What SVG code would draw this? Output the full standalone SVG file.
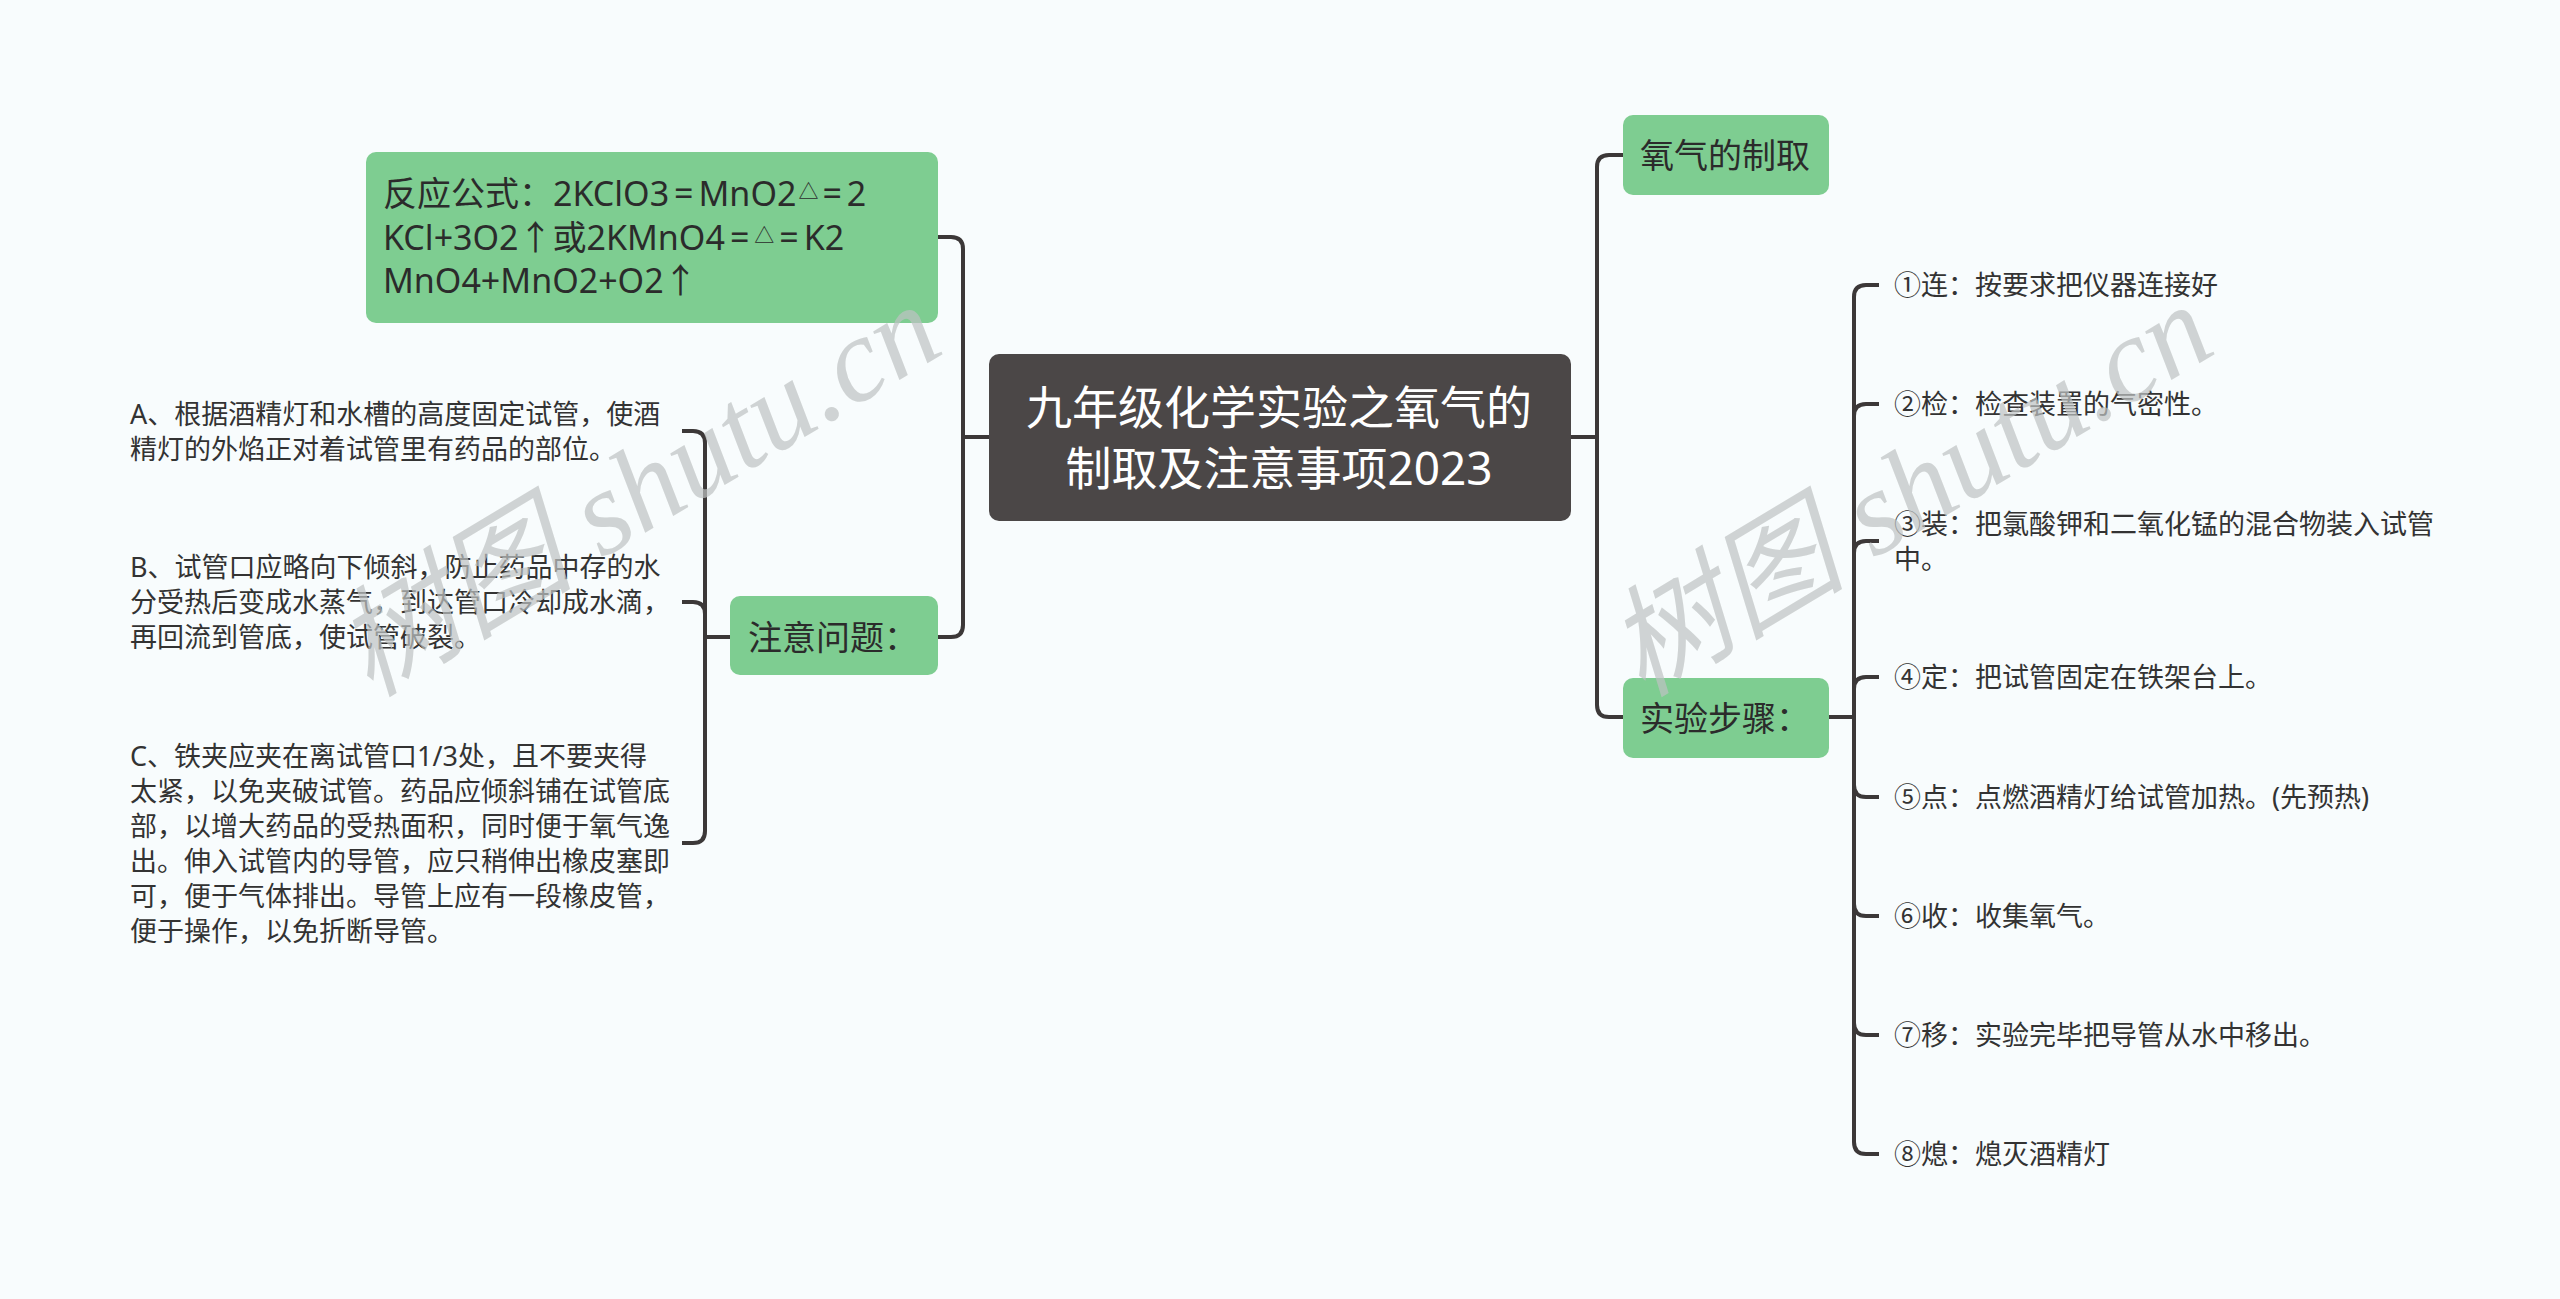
<svg xmlns="http://www.w3.org/2000/svg" width="2560" height="1299" viewBox="0 0 2560 1299">
<style>
.bg{fill:#F8FCFD}
.box{fill:#7ECD91}
.root{fill:#4B4747}
.lnk{fill:none;stroke:#3C3838;stroke-width:4}
.t{font-family:"Noto Sans","Noto Sans CJK SC",sans-serif;fill:#2B2B2B}
.rt{font-family:"Noto Sans","Noto Sans CJK SC",sans-serif;fill:#FFFFFF;font-size:46px;text-anchor:middle}
.n{font-size:34px}
.l{font-size:27px;fill:#333333}
.tri{font-size:20px}
.wm{font-family:"Liberation Serif","Noto Sans CJK SC",serif;font-style:italic;font-size:120px;fill:#BFC3C3;opacity:0.7}
</style>
<rect class="bg" x="0" y="0" width="2560" height="1299"/>

<g id="connectors">
<path class="lnk" d="M989 437 H963"/>
<path class="lnk" d="M963 437 V249 Q963 237 951 237 H938"/>
<path class="lnk" d="M963 437 V625 Q963 637 951 637 H938"/>
<path class="lnk" d="M730 637 H705"/>
<path class="lnk" d="M705 637 V443 Q705 431 693 431 H682"/>
<path class="lnk" d="M705 637 V614 Q705 602 693 602 H682"/>
<path class="lnk" d="M705 637 V831 Q705 843 693 843 H682"/>
<path class="lnk" d="M1571 437 H1597"/>
<path class="lnk" d="M1597 437 V167 Q1597 155 1609 155 H1623"/>
<path class="lnk" d="M1597 437 V705 Q1597 717 1609 717 H1623"/>
<path class="lnk" d="M1829 717 H1854"/>
<path class="lnk" d="M1854 717 V297 Q1854 285 1866 285 H1879"/>
<path class="lnk" d="M1854 717 V416 Q1854 404 1866 404 H1879"/>
<path class="lnk" d="M1854 717 V553 Q1854 541 1866 541 H1879"/>
<path class="lnk" d="M1854 717 V689 Q1854 677 1866 677 H1879"/>
<path class="lnk" d="M1854 717 V785 Q1854 797 1866 797 H1879"/>
<path class="lnk" d="M1854 717 V904 Q1854 916 1866 916 H1879"/>
<path class="lnk" d="M1854 717 V1023 Q1854 1035 1866 1035 H1879"/>
<path class="lnk" d="M1854 717 V1142 Q1854 1154 1866 1154 H1879"/>
</g>

<g id="root">
<rect class="root" x="989" y="354" width="582" height="167" rx="10"/>
<text class="rt" x="1279" y="424">九年级化学实验之氧气的</text>
<text class="rt" x="1279" y="485">制取及注意事项2023</text>
</g>

<g id="formula">
<rect class="box" x="366" y="152" width="572" height="171" rx="10"/>
<text class="t n" x="383" y="206">反应公式：2KClO3<tspan dx="5">=</tspan><tspan dx="5">MnO2</tspan><tspan class="tri" dx="2" dy="-7">△</tspan><tspan dx="4" dy="7">=</tspan><tspan dx="5">2</tspan></text>
<text class="t n" x="383" y="250">KCl+3O2↑或2KMnO4<tspan dx="5">=</tspan><tspan class="tri" dx="5" dy="-7">△</tspan><tspan dx="5" dy="7">=</tspan><tspan dx="5">K2</tspan></text>
<text class="t n" x="383" y="293">MnO4+MnO2+O2↑</text>
</g>

<g id="notes">
<rect class="box" x="730" y="596" width="208" height="79" rx="10"/>
<text class="t n" x="748" y="650">注意问题：</text>
</g>

<g id="noteA">
<text class="t l" x="130" y="424">A、根据酒精灯和水槽的高度固定试管，使酒</text>
<text class="t l" x="130" y="459">精灯的外焰正对着试管里有药品的部位。</text>
</g>
<g id="noteB">
<text class="t l" x="130" y="577">B、试管口应略向下倾斜，防止药品中存的水</text>
<text class="t l" x="130" y="612">分受热后变成水蒸气，到达管口冷却成水滴，</text>
<text class="t l" x="130" y="647">再回流到管底，使试管破裂。</text>
</g>
<g id="noteC">
<text class="t l" x="130" y="766">C、铁夹应夹在离试管口1/3处，且不要夹得</text>
<text class="t l" x="130" y="801">太紧，以免夹破试管。药品应倾斜铺在试管底</text>
<text class="t l" x="130" y="836">部，以增大药品的受热面积，同时便于氧气逸</text>
<text class="t l" x="130" y="871">出。伸入试管内的导管，应只稍伸出橡皮塞即</text>
<text class="t l" x="130" y="906">可，便于气体排出。导管上应有一段橡皮管，</text>
<text class="t l" x="130" y="941">便于操作，以免折断导管。</text>
</g>

<g id="prep">
<rect class="box" x="1623" y="115" width="206" height="80" rx="10"/>
<text class="t n" x="1640" y="168">氧气的制取</text>
</g>

<g id="steps">
<rect class="box" x="1623" y="678" width="206" height="80" rx="10"/>
<text class="t n" x="1640" y="731">实验步骤：</text>
</g>

<g id="s1"><text class="t l" x="1894" y="295">①连：按要求把仪器连接好</text></g>
<g id="s2"><text class="t l" x="1894" y="414">②检：检查装置的气密性。</text></g>
<g id="s3"><text class="t l" x="1894" y="534">③装：把氯酸钾和二氧化锰的混合物装入试管</text><text class="t l" x="1894" y="569">中。</text></g>
<g id="s4"><text class="t l" x="1894" y="687">④定：把试管固定在铁架台上。</text></g>
<g id="s5"><text class="t l" x="1894" y="807">⑤点：点燃酒精灯给试管加热。(先预热)</text></g>
<g id="s6"><text class="t l" x="1894" y="926">⑥收：收集氧气。</text></g>
<g id="s7"><text class="t l" x="1894" y="1045">⑦移：实验完毕把导管从水中移出。</text></g>
<g id="s8"><text class="t l" x="1894" y="1164">⑧熄：熄灭酒精灯</text></g>

<g id="watermark">
<text class="wm" transform="translate(370,698) rotate(-31)">树图 shutu.cn</text>
<text class="wm" transform="translate(1642,698) rotate(-31)">树图 shutu.cn</text>
</g>
</svg>
